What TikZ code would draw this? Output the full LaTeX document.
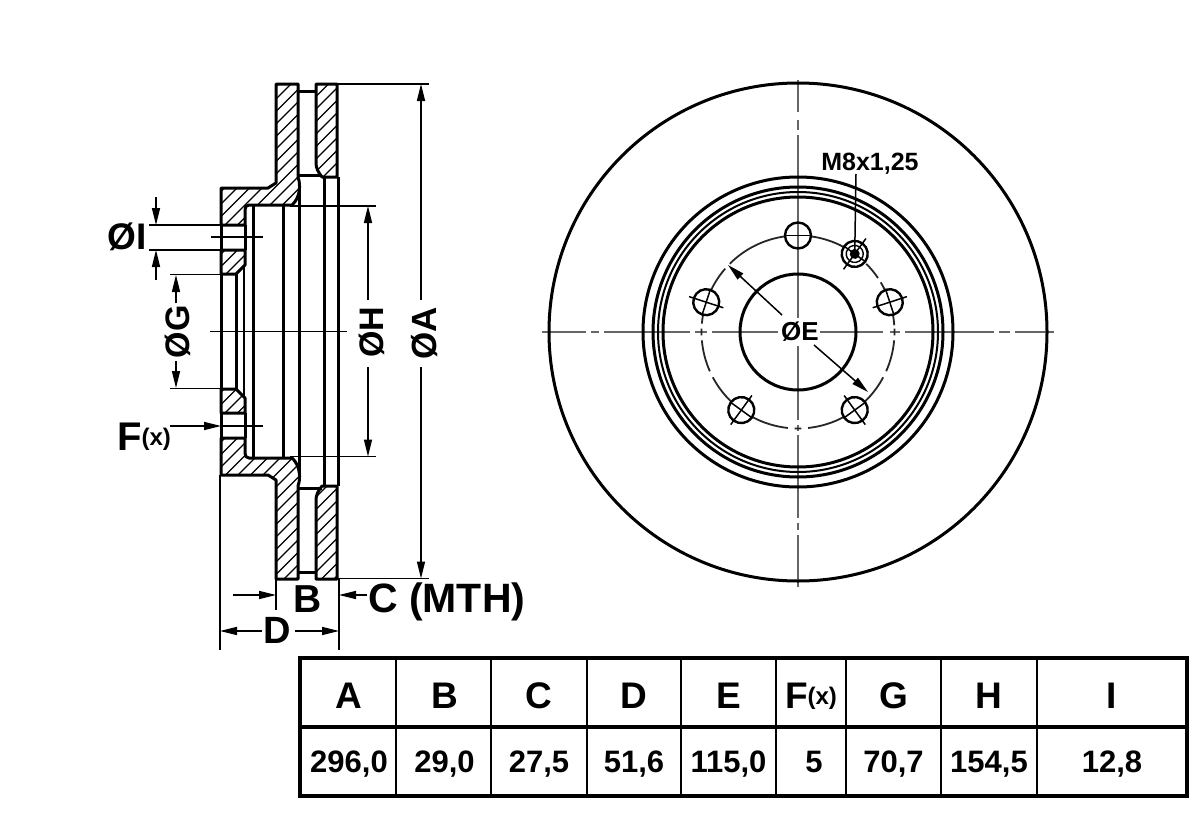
\documentclass[tikz,border=0pt]{standalone}
\usepackage{fontspec}
\setmainfont{Liberation Sans}
\usetikzlibrary{arrows.meta}
\newcommand{\fs}[1]{\fontsize{#1}{#1}\selectfont\bfseries}
\tikzset{
 heavy/.style={line width=3pt,line join=round},
 med/.style={line width=2pt},
 thin line/.style={line width=1.5pt},
 hatch/.style={line width=1.2pt},
 dim/.style={line width=1.5pt,-{Triangle[length=17pt,width=8pt]}},
 centre/.style={line width=2pt,draw=black!60},
 lab/.style={inner sep=0pt,text=black},
 cell/.style={inner sep=0pt,text=black,anchor=base},
}
\newcommand{\hatchdir}{-150}
\newcommand{\hatchlines}{\foreach \k in {0,1,...,60}{\draw[hatch] (200,{-200+\k*12.5}) -- ++(150,\hatchdir);}}
\newcommand{\halfsection}{%
 \begin{scope}
  \clip (276,84)--(298,84)--(298,177)..controls (301,185) and (300,198)..(292,205)--(249,205)..controls (246,205) and (245,207)..(245,210)--(245,225)--(221,225)--(221,188)--(268,188)--(276,183)--cycle;
  \hatchlines
 \end{scope}
 \begin{scope}
  \clip (221,250)--(245,250)--(245,265)--(236,274)--(221,274)--cycle;
  \hatchlines
 \end{scope}
 \begin{scope}
  \clip (316,84)--(337,84)--(337,177)--(322,177)..controls (318,172) and (316,168)..(316,163)--cycle;
  \hatchlines
 \end{scope}
 \draw[heavy] (276,84)--(298,84)--(298,177)..controls (301,185) and (300,198)..(292,205)--(249,205)..controls (246,205) and (245,207)..(245,210)--(245,225)--(221,225)--(221,188)--(268,188)--(276,183)--cycle;
 \draw[heavy] (221,250)--(245,250)--(245,265)--(236,274)--(221,274)--cycle;
 \draw[heavy] (316,84)--(337,84)--(337,177)--(322,177)..controls (318,172) and (316,168)..(316,163)--cycle;
 \draw[heavy] (298,91)--(316,91);
 \draw[heavy] (298,175)--(322,175);
 \draw[heavy] (245,225)--(245,250);
 \draw[heavy] (221,225)--(221,250);
}
\begin{document}
\begin{tikzpicture}[x=1pt,y=-1pt]
\useasboundingbox (0,0) rectangle (1200,827);
\fill[white] (0,0) rectangle (1200,827);

% ---------- section view
\halfsection
\begin{scope}[shift={(0,663)},yscale=-1]
\renewcommand{\hatchdir}{150}
\halfsection
\end{scope}
\draw[heavy] (221,274)--(221,389);
\draw[heavy] (236,274)--(236,389);
\draw[med]   (244,266)--(244,397);
\draw[heavy] (253,205)--(253,458);
\draw[heavy] (283,205)--(283,458);
\draw[heavy] (299,190)--(299,473);
\draw[heavy] (324,177)--(324,486);
\draw[heavy] (338,177)--(338,486);

% centre lines
\coordinate (cl1) at (210,331.5); \coordinate (cl2) at (347,331.5);
\draw[thin line] (cl1)--(cl2);
\coordinate (h1a) at (211,237); \coordinate (h1b) at (263,237);
\draw[thin line] (h1a)--(h1b);
\coordinate (h2b) at (263,426);

% diameter I
\coordinate (i1) at (149,225); \coordinate (i1e) at (221,225);
\coordinate (i2) at (149,250); \coordinate (i2e) at (221,250);
\draw[thin line] (i1)--(i1e); \draw[thin line] (i2)--(i2e);
\coordinate (it) at (156,197); \coordinate (itt) at (156,225);
\coordinate (ib) at (156,280); \coordinate (ibt) at (156,250);
\draw[dim] (it)--(itt); \draw[dim] (ib)--(ibt);
\node[lab] (labI) at (127,237) {\fs{37}ØI};

% diameter G
\coordinate (g1) at (170,274.5); \coordinate (g1e) at (221,274.5);
\coordinate (g2) at (170,388.5); \coordinate (g2e) at (221,388.5);
\draw[thin line] (g1)--(g1e); \draw[thin line] (g2)--(g2e);
\node[lab,rotate=90] (labG) at (178,332) {\fs{34}ØG};
\coordinate (gt) at (176,275); \coordinate (gb) at (176,388);
\coordinate (gs1) at (176,303); \coordinate (gs2) at (176,361);
\draw[dim] (gs1)--(gt); \draw[dim] (gs2)--(gb);

% diameter H
\coordinate (hh1) at (290,206); \coordinate (hh1e) at (376,206);
\coordinate (hh2) at (290,456.5); \coordinate (hh2e) at (376,456.5);
\draw[thin line] (hh1)--(hh1e); \draw[thin line] (hh2)--(hh2e);
\node[lab,rotate=90] (labH) at (372,332) {\fs{34}ØH};
\coordinate (ht) at (368,206); \coordinate (hb) at (368,456.5);
\coordinate (hs1) at (368,300); \coordinate (hs2) at (368,367);
\draw[dim] (hs1)--(ht); \draw[dim] (hs2)--(hb);

% diameter A
\coordinate (a1) at (338,84); \coordinate (a1e) at (429,84);
\coordinate (a2) at (338,578.5); \coordinate (a2e) at (429,578.5);
\draw[thin line] (a1)--(a1e); \draw[thin line] (a2)--(a2e);
\node[lab,rotate=90] (labA) at (425,333) {\fs{35}ØA};
\coordinate (at) at (421,84); \coordinate (ab) at (421,578.5);
\coordinate (as1) at (421,300); \coordinate (as2) at (421,367);
\draw[dim] (as1)--(at); \draw[dim] (as2)--(ab);

% F(x)
\node[lab,anchor=base west] (labF) at (117,450) {\fs{40}F\fs{24}\raisebox{5pt}{(x)}};
\coordinate (f1) at (170,426); \coordinate (f1t) at (221,426);
\draw[dim] (f1)--(f1t); \draw[thin line] (f1t)--(h2b);

% B, C, D
\node[lab,anchor=base] (labB) at (308,612) {\fs{39}B};
\node[lab,anchor=base west] (labC) at (368,612.5) {\fs{41}C (MTH)};
\node[lab,anchor=base] (labD) at (277,643) {\fs{38}D};
\coordinate (e1) at (220,475); \coordinate (e1b) at (220,650);
\coordinate (e2) at (339,578); \coordinate (e2b) at (339,650);
\coordinate (e3) at (276,578); \coordinate (e3b) at (276,610);
\draw[thin line] (e1)--(e1b); \draw[thin line] (e2)--(e2b); \draw[thin line] (e3)--(e3b);
\coordinate (b1) at (233,595); \coordinate (b1t) at (276,595);
\coordinate (c1) at (367,595); \coordinate (c1t) at (339,595);
\draw[dim] (b1)--(b1t); \draw[dim] (c1)--(c1t);
\coordinate (dl) at (220,631); \coordinate (dr) at (339,631);
\coordinate (ds1) at (262,631); \coordinate (ds2) at (295,631);
\draw[dim] (ds1)--(dl); \draw[dim] (ds2)--(dr);

% ---------- centre lines of the face view
\foreach \a/\b in {542/586,591/599,604/690,695/707,712/778,820/883,890/900,905/994,999/1010,1015/1054}{
 \draw[centre] (\a,332)--(\b,332);}
\foreach \a/\b in {80/112,120/130,135/318,346/420,425/431,435/518,523/530,535/587}{
 \draw[centre] (798,\a)--(798,\b);}

% ---------- face view
\begin{scope}[shift={(798,332)}]
 \coordinate (fc) at (0,0);
 \draw[heavy] (fc) circle[radius=249];
 \draw[heavy] (fc) circle[radius=155];
 \draw[heavy] (fc) circle[radius=145];
 \draw[med]   (fc) circle[radius=140];
 \draw[heavy] (fc) circle[radius=135];
 \draw[heavy] (fc) circle[radius=58];
 \foreach \a/\b in {82/62,45/34,31/26,10/4,2/-2,-5/-24,-28/-46,-62/-84,-88/-92,-96/-118,-134/-152,-156/-175,182/178,175/170,154/139,135/98}{
  \draw[line width=1.8pt,draw=black!85] (-\a:96.5) arc[start angle=-\a,end angle=-\b,radius=96.5];
 }
 % plain holes (x axis of the scope runs radially)
 \foreach \ang in {18,-54,-126,162}{
  \begin{scope}[shift={(-\ang:96.5)},rotate=\ang]
   \draw[line width=2.4pt] (0,0) circle[radius=13];
   \draw[thin line] (-18,0)--(18,0);
   \draw[thin line] (0,-13)--(0,13);
  \end{scope}
 }
 \begin{scope}[shift={(-90:96.5)}]
  \draw[line width=2.4pt] (0,0) circle[radius=13];
  \draw[thin line] (-13,0)--(13,0);
 \end{scope}
 % threaded hole
 \begin{scope}[shift={(-54:96.5)},rotate=54]
  \draw[line width=2.4pt] (0,0) circle[radius=13];
  \draw[line width=1.4pt] (0,0) circle[radius=8.5];
  \fill[black] (0,0) circle[radius=5];
  \draw[thin line] (-19,0)--(19,0);
  \draw[thin line] (0,-13)--(0,13);
  \coordinate (mhole) at (0,0);
 \end{scope}
 % E
 \node[lab] (labE) at (2,0) {\fs{26}ØE};
 \coordinate (et) at (-70,-67); \coordinate (eb) at (70,60);
 \coordinate (es1) at (-16,-17); \coordinate (es2) at (16,13);
 \draw[dim] (es1)--(et);
 \draw[dim] (es2)--(eb);
\end{scope}
\node[lab] (labM) at (870,164) {\fs{25}M8x1,25};
\coordinate (mtop) at (856,174);
\draw[thin line] (mtop)--(mhole);

% ---------- table
\draw[line width=3.4pt] (300,658) rectangle (1187,796);
\draw[line width=3.4pt] (300,727)--(1187,727);
\foreach \x in {396,491,587,681,776,846,941,1037}{\draw[line width=2.8pt] (\x,658)--(\x,796);}
\foreach \cx/\h/\v/\nm in {349/A/{296,0}/a,444.5/B/{29,0}/b,539/C/{27,5}/c,634/D/{51,6}/d,728.5/E/{115,0}/e,893.5/G/{70,7}/g,989/H/{154,5}/h,1112/I/{12,8}/i}{
 \node[cell] (th\nm) at (\cx,708) {\fs{37}\h};
 \node[cell] (td\nm) at (\cx,772) {\fs{31}\v};
}
\node[cell] (thf) at (811,708) {\fs{37}F\fs{24}\raisebox{4pt}{(x)}};
\node[cell] (tdf) at (814,772) {\fs{31}5};
\end{tikzpicture}
\end{document}
